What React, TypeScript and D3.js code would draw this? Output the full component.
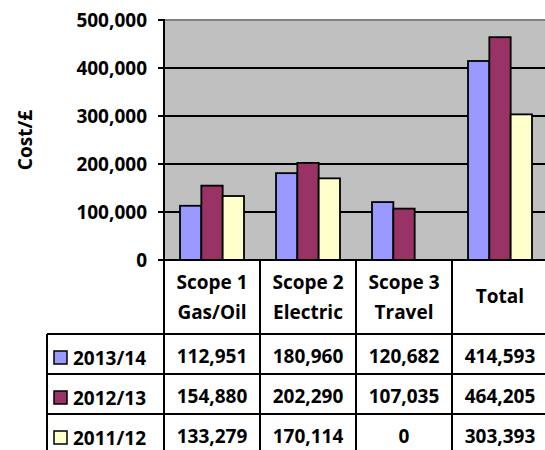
import React from 'react';
import * as d3 from 'd3';

// chart values
const categories = ['Scope 1 Gas/Oil', 'Scope 2 Electric', 'Scope 3 Travel', 'Total'];
const categoryLines = [['Scope 1', 'Gas/Oil'], ['Scope 2', 'Electric'], ['Scope 3', 'Travel'], ['Total']];
const seriesNames = ['2013/14', '2012/13', '2011/12'];
const values201314 = [112951, 180960, 120682, 414593];
const values201213 = [154880, 202290, 107035, 464205];
const values201112 = [133279, 170114, 0, 303393];
const seriesColors = ['#9999FF', '#993366', '#FFFFCC'];
const yTicks = [0, 100000, 200000, 300000, 400000, 500000];

const seriesValues = [values201314, values201213, values201112];

const W = 545;
const H = 450;
const left = 164;
const top = 20;
const bottom = 260;
const right = 548;
const headerBottom = 334;
const rowH = 40;
const tableLeft = 47;
const font = '"Open Sans", sans-serif';
const fs = 19;

const App = () => {
  const x = d3.scaleBand<string>().domain(categories).range([left, right]).padding(0);
  const xs = d3.scaleBand<string>().domain(seriesNames).range([0, x.bandwidth()])
    .paddingInner(0).paddingOuter(0.75);
  const y = d3.scaleLinear().domain([0, 500000]).range([bottom, top]);
  const fmt = d3.format(',');

  const colEdges = categories.map(c => x(c) as number).concat([right]);

  return (
    <svg width={W} height={H} style={{ position: 'absolute', left: 0, top: 0, display: 'block' }}
      fontFamily={font} fontWeight="bold" fontSize={fs}>
      <rect x={0} y={0} width={W} height={H} fill="#fff" />
      {/* plot area */}
      <rect x={left} y={top} width={right - left} height={bottom - top} fill="#C0C0C0" />
      <line x1={left} x2={right} y1={top} y2={top} stroke="#808080" strokeWidth={2} />
      {yTicks.filter(t => t > 0 && t < 500000).map(t => (
        <line key={t} x1={left} x2={right} y1={y(t)} y2={y(t)} stroke="#000" strokeWidth={2} />
      ))}

      {/* bars */}
      {seriesNames.map((s, si) =>
        categories.map((c, ci) => {
          const v = seriesValues[si][ci];
          if (!v) return null;
          return (
            <rect key={s + c}
              x={(x(c) as number) + (xs(s) as number)}
              y={y(v)}
              width={xs.bandwidth()}
              height={y(0) - y(v)}
              fill={seriesColors[si]} stroke="#000" strokeWidth={1.8} />
          );
        })
      )}

      {/* axes */}
      <line x1={left} x2={right} y1={y(0)} y2={y(0)} stroke="#000" strokeWidth={2} />
      <line x1={left} x2={left} y1={top - 1} y2={bottom + 1} stroke="#000" strokeWidth={2} />
      {yTicks.map(t => (
        <g key={t}>
          <line x1={left - 6} x2={left} y1={y(t)} y2={y(t)} stroke="#000" strokeWidth={2} />
          <text x={left - 17} y={y(t) + 7} textAnchor="end" fill="#000">{fmt(t)}</text>
        </g>
      ))}
      <text transform="translate(32,140) rotate(-90)" textAnchor="middle" fill="#000">Cost/£</text>

      {/* data table */}
      {colEdges.map((cx, i) => (
        <line key={'v' + i} x1={cx} x2={cx} y1={bottom} y2={headerBottom + rowH * 3}
          stroke="#000" strokeWidth={2} />
      ))}
      <line x1={tableLeft} x2={tableLeft} y1={headerBottom} y2={headerBottom + rowH * 3}
        stroke="#000" strokeWidth={2} />
      {[0, 1, 2].map(r => (
        <line key={'h' + r} x1={tableLeft} x2={right} y1={headerBottom + rowH * r}
          y2={headerBottom + rowH * r} stroke="#000" strokeWidth={2} />
      ))}

      {categories.map((c, ci) => {
        const cx = (x(c) as number) + x.bandwidth() / 2;
        const lines = categoryLines[ci];
        return lines.length === 1 ? (
          <text key={c} x={cx} y={bottom + 43} textAnchor="middle">{lines[0]}</text>
        ) : (
          <text key={c} x={cx} textAnchor="middle">
            <tspan x={cx} y={bottom + 29}>{lines[0]}</tspan>
            <tspan x={cx} y={bottom + 59}>{lines[1]}</tspan>
          </text>
        );
      })}

      {seriesNames.map((s, si) => {
        const ry = headerBottom + rowH * si;
        return (
          <g key={s}>
            <rect x={54} y={ry + 17} width={13} height={13} fill={seriesColors[si]}
              stroke="#000" strokeWidth={1.5} />
            <text x={73} y={ry + 31}>{s}</text>
            {categories.map((c, ci) => (
              <text key={c} x={(x(c) as number) + x.bandwidth() / 2} y={ry + 29} textAnchor="middle">
                {fmt(seriesValues[si][ci])}
              </text>
            ))}
          </g>
        );
      })}
    </svg>
  );
};

export default App;
